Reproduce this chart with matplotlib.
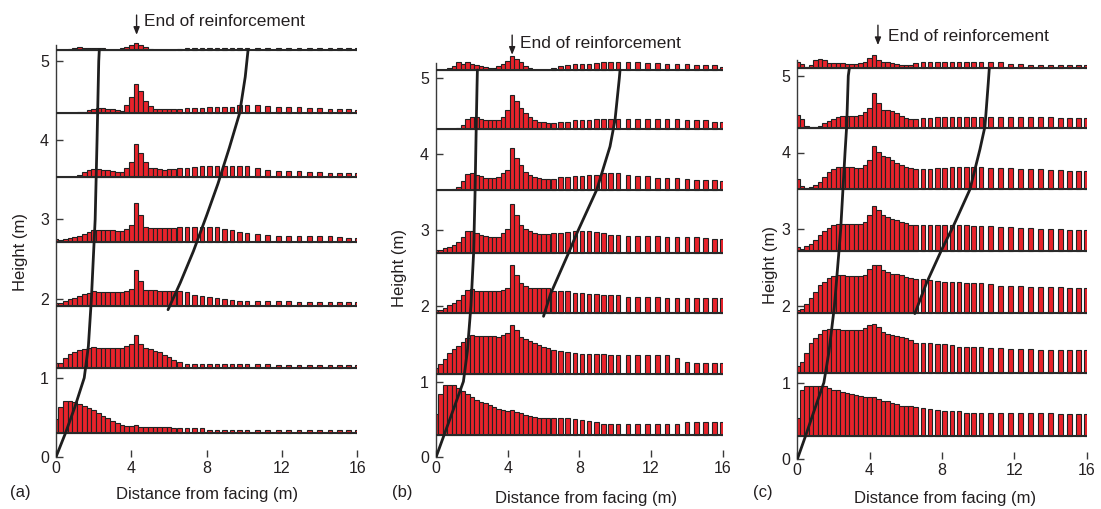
import matplotlib
matplotlib.use("Agg")
import matplotlib.pyplot as plt

plt.rcParams['font.family'] = ['Liberation Sans', 'DejaVu Sans']

# ---------------- data ----------------
distance = [0, 0.25, 0.5, 0.75, 1.0, 1.25, 1.5, 1.75, 2.0, 2.25, 2.5, 2.75, 3.0,
            3.25, 3.5, 3.75, 4.0, 4.25, 4.5, 4.75, 5.0, 5.25, 5.5, 5.75, 6.0, 6.25,
            6.55, 6.95, 7.35, 7.75, 8.15, 8.55, 8.95, 9.35, 9.75, 10.15,
            10.7, 11.25, 11.8, 12.35, 12.9, 13.45, 14.0, 14.55, 15.05, 15.55, 16.0]

# panel (a) : height of bars above each row baseline (m)
a_base = [0.30, 1.13, 1.91, 2.72, 3.53, 4.34, 5.14]
a_row1 = [0.18, 0.33, 0.41, 0.41, 0.39, 0.37, 0.35, 0.32, 0.29, 0.25, 0.22, 0.19, 0.16, 0.135, 0.10, 0.09, 0.09, 0.11, 0.08, 0.08, 0.08, 0.08, 0.08, 0.08, 0.075, 0.07,
          0.06, 0.06, 0.06, 0.06, 0.045, 0.045, 0.045, 0.045, 0.045, 0.045, 0.045, 0.045, 0.045, 0.04, 0.04, 0.04, 0.04, 0.04, 0.04, 0.04, 0.04]
a_row2 = [0.06, 0.06, 0.12, 0.17, 0.2, 0.22, 0.235, 0.25, 0.265, 0.25, 0.25, 0.25, 0.25, 0.25, 0.25, 0.27, 0.30, 0.41, 0.30, 0.25, 0.23, 0.21, 0.19, 0.16, 0.13, 0.09,
          0.065, 0.05, 0.05, 0.05, 0.05, 0.05, 0.04, 0.04, 0.04, 0.04, 0.04, 0.04, 0.035, 0.035, 0.035, 0.035, 0.035, 0.035, 0.035, 0.035, 0.035]
a_row3 = [0.03, 0.04, 0.065, 0.085, 0.095, 0.12, 0.145, 0.165, 0.18, 0.175, 0.175, 0.175, 0.17, 0.17, 0.17, 0.18, 0.21, 0.45, 0.31, 0.2, 0.2, 0.195, 0.19, 0.19, 0.19, 0.19,
          0.18, 0.17, 0.13, 0.12, 0.105, 0.095, 0.085, 0.075, 0.065, 0.06, 0.06, 0.06, 0.055, 0.055, 0.05, 0.05, 0.05, 0.05, 0.05, 0.05, 0.05]
a_row4 = [0.035, 0.02, 0.03, 0.05, 0.06, 0.075, 0.095, 0.125, 0.145, 0.145, 0.145, 0.145, 0.145, 0.13, 0.13, 0.165, 0.21, 0.49, 0.34, 0.19, 0.17, 0.17, 0.17, 0.17, 0.17, 0.17,
          0.18, 0.18, 0.18, 0.18, 0.18, 0.18, 0.16, 0.14, 0.125, 0.105, 0.09, 0.085, 0.075, 0.065, 0.065, 0.065, 0.065, 0.065, 0.06, 0.05, 0.05]
a_row5 = [0, 0, 0, 0, 0.01, 0.035, 0.07, 0.1, 0.11, 0.11, 0.1, 0.09, 0.08, 0.07, 0.07, 0.125, 0.2, 0.42, 0.31, 0.19, 0.125, 0.12, 0.11, 0.1, 0.11, 0.11,
          0.125, 0.125, 0.13, 0.145, 0.145, 0.145, 0.145, 0.145, 0.145, 0.145, 0.125, 0.1, 0.085, 0.075, 0.075, 0.065, 0.065, 0.055, 0.055, 0.06, 0.06]
a_row6 = [0, 0, 0, 0, 0, 0.01, 0.02, 0.035, 0.05, 0.07, 0.065, 0.06, 0.05, 0.04, 0.03, 0.11, 0.2, 0.37, 0.28, 0.16, 0.09, 0.06, 0.05, 0.05, 0.05, 0.05,
          0.06, 0.07, 0.07, 0.07, 0.085, 0.085, 0.085, 0.085, 0.1, 0.1, 0.1, 0.095, 0.085, 0.085, 0.075, 0.065, 0.065, 0.06, 0.05, 0.05, 0.04]
a_row7 = [0, 0, 0, 0.015, 0.02, 0.035, 0.025, 0.02, 0.02, 0.02, 0.02, 0, 0, 0, 0.02, 0.035, 0.06, 0.09, 0.065, 0.035, 0.015, 0, 0, 0, 0, 0,
          0.015, 0.02, 0.02, 0.025, 0.03, 0.03, 0.03, 0.03, 0.03, 0.03, 0.03, 0.03, 0.03, 0.025, 0.02, 0.02, 0.02, 0.02, 0.02, 0.02, 0.02]

# panel (b)
b_base = [0.30, 1.10, 1.91, 2.70, 3.52, 4.33, 5.11]
b_row1 = [0.27, 0.53, 0.66, 0.66, 0.66, 0.61, 0.58, 0.54, 0.5, 0.46, 0.43, 0.41, 0.39, 0.365, 0.34, 0.33, 0.31, 0.32, 0.3, 0.29, 0.26, 0.24, 0.23, 0.22, 0.22, 0.22,
          0.22, 0.22, 0.22, 0.2, 0.19, 0.175, 0.16, 0.145, 0.145, 0.145, 0.145, 0.145, 0.145, 0.145, 0.145, 0.145, 0.16, 0.16, 0.16, 0.16, 0.16]
b_row2 = [0.075, 0.13, 0.2, 0.27, 0.33, 0.37, 0.42, 0.47, 0.52, 0.5, 0.5, 0.5, 0.5, 0.5, 0.49, 0.51, 0.54, 0.645, 0.585, 0.49, 0.46, 0.44, 0.41, 0.38, 0.36, 0.34,
          0.32, 0.3, 0.29, 0.28, 0.26, 0.26, 0.26, 0.26, 0.25, 0.25, 0.25, 0.25, 0.25, 0.25, 0.25, 0.21, 0.16, 0.14, 0.14, 0.14, 0.14]
b_row3 = [0.035, 0.035, 0.055, 0.1, 0.13, 0.16, 0.23, 0.3, 0.31, 0.28, 0.28, 0.28, 0.28, 0.28, 0.28, 0.3, 0.33, 0.63, 0.5, 0.39, 0.35, 0.33, 0.32, 0.32, 0.32, 0.32,
          0.29, 0.28, 0.28, 0.255, 0.255, 0.245, 0.245, 0.235, 0.235, 0.235, 0.21, 0.2, 0.2, 0.2, 0.19, 0.19, 0.19, 0.19, 0.19, 0.19, 0.19]
b_row4 = [0.035, 0.03, 0.055, 0.08, 0.1, 0.145, 0.2, 0.28, 0.28, 0.255, 0.235, 0.22, 0.21, 0.2, 0.21, 0.255, 0.31, 0.64, 0.5, 0.365, 0.31, 0.28, 0.255, 0.245, 0.24, 0.24,
          0.255, 0.255, 0.27, 0.28, 0.28, 0.28, 0.27, 0.255, 0.235, 0.235, 0.22, 0.22, 0.22, 0.22, 0.21, 0.21, 0.2, 0.2, 0.19, 0.18, 0.18]
b_row5 = [0, 0, 0, 0, 0.015, 0.04, 0.12, 0.22, 0.23, 0.2, 0.19, 0.17, 0.16, 0.16, 0.18, 0.23, 0.27, 0.56, 0.43, 0.34, 0.25, 0.2, 0.18, 0.16, 0.155, 0.155,
          0.155, 0.175, 0.18, 0.19, 0.19, 0.2, 0.2, 0.23, 0.23, 0.23, 0.205, 0.185, 0.185, 0.17, 0.16, 0.16, 0.155, 0.14, 0.14, 0.14, 0.13]
b_row6 = [0, 0, 0, 0, 0, 0.015, 0.06, 0.13, 0.16, 0.16, 0.13, 0.125, 0.115, 0.115, 0.12, 0.165, 0.255, 0.45, 0.365, 0.28, 0.21, 0.16, 0.12, 0.1, 0.09, 0.08,
          0.08, 0.1, 0.1, 0.115, 0.115, 0.115, 0.13, 0.13, 0.13, 0.13, 0.13, 0.13, 0.13, 0.13, 0.13, 0.13, 0.12, 0.12, 0.115, 0.1, 0.1]
b_row7 = [0, 0, 0, 0.02, 0.055, 0.1, 0.08, 0.1, 0.08, 0.065, 0.05, 0.035, 0.02, 0.02, 0.05, 0.08, 0.12, 0.19, 0.14, 0.1, 0.05, 0.02, 0, 0, 0, 0,
          0.02, 0.05, 0.065, 0.075, 0.08, 0.08, 0.088, 0.1, 0.1, 0.11, 0.11, 0.1, 0.088, 0.088, 0.08, 0.08, 0.08, 0.066, 0.066, 0.066, 0.045]

# panel (c)
c_base = [0.30, 1.12, 1.91, 2.71, 3.52, 4.32, 5.10]
c_row1 = [0.24, 0.61, 0.65, 0.65, 0.65, 0.65, 0.65, 0.63, 0.61, 0.6, 0.58, 0.565, 0.55, 0.535, 0.52, 0.51, 0.51, 0.51, 0.49, 0.465, 0.455, 0.435, 0.42, 0.4, 0.39, 0.39,
          0.38, 0.37, 0.36, 0.34, 0.33, 0.33, 0.325, 0.31, 0.31, 0.31, 0.31, 0.3, 0.3, 0.3, 0.3, 0.3, 0.3, 0.29, 0.29, 0.29, 0.29]
c_row2 = [0.1, 0.15, 0.27, 0.39, 0.46, 0.52, 0.56, 0.585, 0.585, 0.575, 0.57, 0.57, 0.57, 0.57, 0.57, 0.59, 0.625, 0.65, 0.6, 0.54, 0.515, 0.5, 0.485, 0.47, 0.455, 0.435,
          0.4, 0.39, 0.39, 0.38, 0.38, 0.37, 0.35, 0.34, 0.34, 0.34, 0.33, 0.33, 0.32, 0.32, 0.32, 0.305, 0.305, 0.305, 0.305, 0.3, 0.3]
c_row3 = [0.035, 0.055, 0.11, 0.19, 0.27, 0.36, 0.4, 0.45, 0.475, 0.49, 0.49, 0.48, 0.48, 0.48, 0.48, 0.49, 0.57, 0.62, 0.62, 0.56, 0.535, 0.51, 0.5, 0.49, 0.47, 0.45,
          0.435, 0.435, 0.43, 0.41, 0.4, 0.4, 0.4, 0.39, 0.39, 0.39, 0.37, 0.355, 0.355, 0.355, 0.34, 0.34, 0.335, 0.335, 0.32, 0.32, 0.32]
c_row4 = [0.055, 0.03, 0.065, 0.1, 0.15, 0.22, 0.27, 0.3, 0.35, 0.36, 0.36, 0.36, 0.36, 0.36, 0.36, 0.38, 0.48, 0.59, 0.535, 0.48, 0.45, 0.425, 0.41, 0.39, 0.37, 0.35,
          0.35, 0.35, 0.35, 0.35, 0.35, 0.35, 0.35, 0.35, 0.335, 0.335, 0.33, 0.32, 0.32, 0.3, 0.3, 0.29, 0.29, 0.29, 0.28, 0.28, 0.28]
c_row5 = [0.13, 0.045, 0.015, 0.025, 0.055, 0.1, 0.165, 0.23, 0.265, 0.29, 0.295, 0.295, 0.29, 0.275, 0.275, 0.32, 0.38, 0.565, 0.49, 0.44, 0.425, 0.38, 0.34, 0.32, 0.295, 0.275,
          0.26, 0.26, 0.26, 0.275, 0.28, 0.295, 0.295, 0.295, 0.295, 0.295, 0.275, 0.275, 0.275, 0.26, 0.26, 0.26, 0.25, 0.25, 0.245, 0.245, 0.245]
c_row6 = [0.17, 0.115, 0.03, 0.013, 0.013, 0.02, 0.06, 0.095, 0.115, 0.145, 0.16, 0.16, 0.16, 0.16, 0.17, 0.21, 0.26, 0.455, 0.33, 0.24, 0.23, 0.22, 0.2, 0.16, 0.13, 0.115,
          0.12, 0.13, 0.13, 0.14, 0.14, 0.14, 0.14, 0.14, 0.14, 0.14, 0.14, 0.14, 0.14, 0.14, 0.14, 0.14, 0.14, 0.13, 0.13, 0.13, 0.13]
c_row7 = [0.08, 0.055, 0.015, 0.045, 0.11, 0.12, 0.1, 0.07, 0.07, 0.07, 0.07, 0.06, 0.06, 0.06, 0.07, 0.08, 0.13, 0.165, 0.11, 0.08, 0.085, 0.07, 0.06, 0.045, 0.035, 0.045,
          0.065, 0.075, 0.08, 0.085, 0.085, 0.085, 0.085, 0.085, 0.085, 0.085, 0.085, 0.08, 0.06, 0.055, 0.045, 0.045, 0.045, 0.045, 0.045, 0.045, 0.045]

# failure-surface curves (distance, height)
a_curve1_x = [0, 0.5, 1.0, 1.5, 1.72, 1.88, 2.0, 2.08, 2.18, 2.27, 2.3]
a_curve1_y = [0, 0.3, 0.63, 1.0, 1.4, 2.0, 2.6, 3.0, 4.0, 5.0, 5.14]
a_curve2_x = [5.95, 6.6, 7.3, 8.0, 8.6, 9.2, 9.75, 10.05, 10.2]
a_curve2_y = [1.86, 2.2, 2.6, 3.05, 3.45, 3.9, 4.34, 4.8, 5.14]
b_curve1_x = [0, 0.46, 1.0, 1.53, 1.75, 1.95, 2.1, 2.18, 2.24, 2.29, 2.31]
b_curve1_y = [0, 0.3, 0.65, 1.0, 1.4, 2.0, 2.7, 3.5, 4.3, 4.9, 5.11]
b_curve2_x = [6.0, 6.4, 7.48, 7.85, 8.97, 9.71, 9.99, 10.23, 10.27]
b_curve2_y = [1.86, 2.16, 2.74, 2.95, 3.53, 4.1, 4.45, 5.0, 5.11]
c_curve1_x = [0, 0.45, 1.0, 1.47, 1.75, 2.05, 2.3, 2.4, 2.64, 2.73, 2.82, 2.88]
c_curve1_y = [0, 0.3, 0.68, 1.0, 1.4, 1.99, 2.7, 3.0, 4.0, 4.34, 5.0, 5.10]
c_curve2_x = [6.5, 7.15, 7.98, 8.63, 9.55, 10.1, 10.38, 10.56, 10.62]
c_curve2_y = [1.9, 2.3, 2.73, 3.04, 3.52, 4.04, 4.34, 4.9, 5.10]

x_ticks = [0, 4, 8, 12, 16]
y_ticks = [0, 1, 2, 3, 4, 5]
arrow_x = [4.28, 4.25, 4.46]
text_x = [4.67, 4.69, 5.01]
panel_labels = ['(a)', '(b)', '(c)']

# ---------------- layout ----------------
W, H = 1101, 509
fig = plt.figure(figsize=(W / 100, H / 100), dpi=100)

# pixel geometry: (x at 0, px per unit x, y at 0, px per unit y)
geom = [(56.0, 18.83, 457.0, 79.2),
        (436.0, 17.92, 457.3, 75.8),
        (797.3, 18.08, 459.3, 76.7)]
YTOP = 5.45

panels = [
    (a_base, [a_row1, a_row2, a_row3, a_row4, a_row5, a_row6, a_row7],
     (a_curve1_x, a_curve1_y), (a_curve2_x, a_curve2_y)),
    (b_base, [b_row1, b_row2, b_row3, b_row4, b_row5, b_row6, b_row7],
     (b_curve1_x, b_curve1_y), (b_curve2_x, b_curve2_y)),
    (c_base, [c_row1, c_row2, c_row3, c_row4, c_row5, c_row6, c_row7],
     (c_curve1_x, c_curve1_y), (c_curve2_x, c_curve2_y)),
]

# arrow / text y (data units) per panel
arrow_tip = [5.33, 5.31, 5.40]
arrow_tail = [5.58, 5.57, 5.66]
text_y = [5.50, 5.46, 5.51]
ylab_pos = [(-0.119, 0.475), (-0.126, 0.458), (-0.094, 0.465)]
xlab_pos = [(0.503, -0.086), (0.522, -0.099), (0.51, -0.093)]
plab_px = [(10, 493), (392, 493), (753, 493)]

RED = '#E8232B'
EDGE = '#222222'
INK = '#231F20'

for i, (base, rows, cur1, cur2) in enumerate(panels):
    x0, sx, y0, sy = geom[i]
    left = x0 / W
    width = 16 * sx / W
    bottom = (H - y0) / H
    height = YTOP * sy / H
    ax = fig.add_axes([left, bottom, width, height])
    ax.set_xlim(0, 16)
    ax.set_ylim(0, YTOP)
    for spine in ('top', 'right', 'bottom'):
        ax.spines[spine].set_visible(False)
    ax.spines['left'].set_bounds(0, 5.2)
    ax.spines['left'].set_color('#3a3a3a')
    ax.spines['left'].set_linewidth(1.0)

    for b, h in zip(base, rows):
        ax.bar(distance, h, width=0.25, bottom=b, color=RED,
               edgecolor=EDGE, linewidth=0.8, zorder=2, clip_on=True)
        ax.plot([0, 16], [b, b], color='#2a2a2a', lw=1.5, zorder=3,
                solid_capstyle='butt')

    ax.plot(cur1[0], cur1[1], color='#1e1e1e', lw=2.0, zorder=4,
            solid_capstyle='round', solid_joinstyle='round')
    ax.plot(cur2[0], cur2[1], color='#1e1e1e', lw=2.0, zorder=4,
            solid_capstyle='round', solid_joinstyle='round')

    ax.set_xticks(x_ticks)
    ax.set_yticks(y_ticks)
    ax.tick_params(axis='both', direction='in', length=5, width=1.0,
                   colors='#3a3a3a', labelcolor=INK, labelsize=11.5)
    ax.tick_params(axis='x', pad=3)
    ax.tick_params(axis='y', pad=5)

    ax.text(xlab_pos[i][0], xlab_pos[i][1], 'Distance from facing (m)',
            transform=ax.transAxes, ha='center', va='center',
            fontsize=12, color=INK)
    ax.text(ylab_pos[i][0], ylab_pos[i][1], 'Height (m)', rotation=90,
            transform=ax.transAxes, ha='center', va='center',
            fontsize=12, color=INK)

    ax.annotate('', xy=(arrow_x[i], arrow_tip[i]),
                xytext=(arrow_x[i], arrow_tail[i]),
                arrowprops=dict(arrowstyle='-|>,head_width=0.18,head_length=0.45',
                                color=INK, lw=1.0, shrinkA=0, shrinkB=0),
                annotation_clip=False)
    ax.text(text_x[i], text_y[i], 'End of reinforcement', ha='left',
            va='center', fontsize=12.4, color=INK, clip_on=False)

    fig.text(plab_px[i][0] / W, 1 - plab_px[i][1] / H, panel_labels[i],
             ha='left', va='center', fontsize=12, color=INK)

fig.savefig('out.png', dpi=100)
